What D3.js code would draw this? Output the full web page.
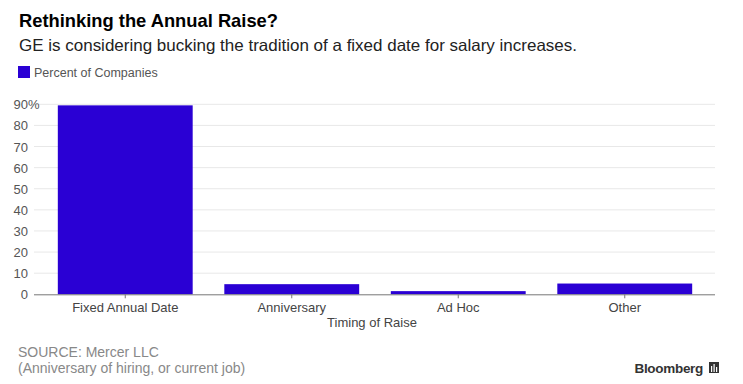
<!DOCTYPE html>
<html><head><meta charset="utf-8">
<script src="https://cdn.jsdelivr.net/npm/d3@7"></script>
<style>body{margin:0;background:#fff}svg{display:block}text{font-family:"Liberation Sans",Arial,sans-serif}</style>
</head><body><svg id="c" width="743" height="384"></svg>
<script>
const categories = ["Fixed Annual Date","Anniversary","Ad Hoc","Other"];
const values = [89.5, 4.8, 1.5, 5.1];
const yTicks = [0,10,20,30,40,50,60,70,80,90];
const seriesName = "Percent of Companies";
const barColor = "#2a00d4";

const svg = d3.select("#c");
svg.append("rect").attr("width",743).attr("height",384).attr("fill","#fff");

svg.append("text").attr("x",19).attr("y",27).attr("font-size",19).attr("font-weight","bold")
  .attr("textLength",259).attr("lengthAdjust","spacingAndGlyphs")
  .attr("fill","#000").text("Rethinking the Annual Raise?");
svg.append("text").attr("x",19).attr("y",51).attr("font-size",16.5).attr("fill","#222")
  .attr("textLength",558).attr("lengthAdjust","spacingAndGlyphs")
  .text("GE is considering bucking the tradition of a fixed date for salary increases.");
svg.append("rect").attr("x",18).attr("y",66).attr("width",12).attr("height",12).attr("fill",barColor);
svg.append("text").attr("x",34).attr("y",77).attr("font-size",12.5).attr("fill","#555").text(seriesName);

const y = d3.scaleLinear().domain([0,90]).range([294.3,104.3]);
const x = d3.scaleBand().domain(categories).range([42,708]).paddingInner(0.19).paddingOuter(0.095);

const grid = svg.append("g");
grid.selectAll("line").data(yTicks.filter(d=>d>0)).join("line")
  .attr("x1",34).attr("x2",715).attr("y1",d=>y(d)).attr("y2",d=>y(d))
  .attr("stroke","#e8e8e8").attr("stroke-width",1);

svg.append("g").selectAll("rect").data(values).join("rect")
  .attr("x",(d,i)=>x(categories[i])).attr("width",x.bandwidth())
  .attr("y",d=>y(d)).attr("height",d=>y(0)-y(d)).attr("fill",barColor);

const yAxis = svg.append("g").attr("transform","translate(28,0)")
  .call(d3.axisLeft(y).tickValues(yTicks).tickSize(0).tickPadding(0).tickFormat(d=>d));
yAxis.select(".domain").remove();
yAxis.selectAll("text").attr("font-size",13).attr("fill","#555").attr("text-anchor","end").attr("dy","0.35em")
  .attr("font-family","Liberation Sans, Arial, sans-serif");
yAxis.selectAll(".tick").filter(d=>d===90).append("text").attr("x",0).attr("dy","0.35em")
  .attr("font-size",13).attr("fill","#555").attr("text-anchor","start").attr("font-family","Liberation Sans, Arial, sans-serif").text("%");

const xAxis = svg.append("g").attr("transform",`translate(0,${y(0)})`)
  .call(d3.axisBottom(x).tickSize(4).tickPadding(4));
xAxis.select(".domain").attr("d","M34,0.5H715").attr("stroke","#777");
xAxis.selectAll(".tick line").attr("stroke","#777");
xAxis.selectAll("text").attr("font-size",13).attr("fill","#444").attr("font-family","Liberation Sans, Arial, sans-serif");

svg.append("text").attr("x",372).attr("y",327).attr("text-anchor","middle").attr("font-size",13)
  .attr("fill","#444").text("Timing of Raise");

svg.append("text").attr("x",18).attr("y",357).attr("font-size",14).attr("fill","#888").text("SOURCE: Mercer LLC");
svg.append("text").attr("x",18).attr("y",373).attr("font-size",14).attr("fill","#888").text("(Anniversary of hiring, or current job)");

svg.append("text").attr("x",703).attr("y",373).attr("text-anchor","end").attr("font-size",13.5)
  .attr("font-weight","bold").attr("fill","#333").attr("letter-spacing","-0.3").text("Bloomberg");
const ic = svg.append("g").attr("transform","translate(709,362)");
ic.append("rect").attr("width",10).attr("height",11).attr("fill","#333");
[[2,4,6],[4.5,2,8],[7,5,5]].forEach(([xx,yy,h])=>ic.append("rect").attr("x",xx).attr("y",yy).attr("width",1.2).attr("height",h).attr("fill","#fff"));
</script></body></html>
